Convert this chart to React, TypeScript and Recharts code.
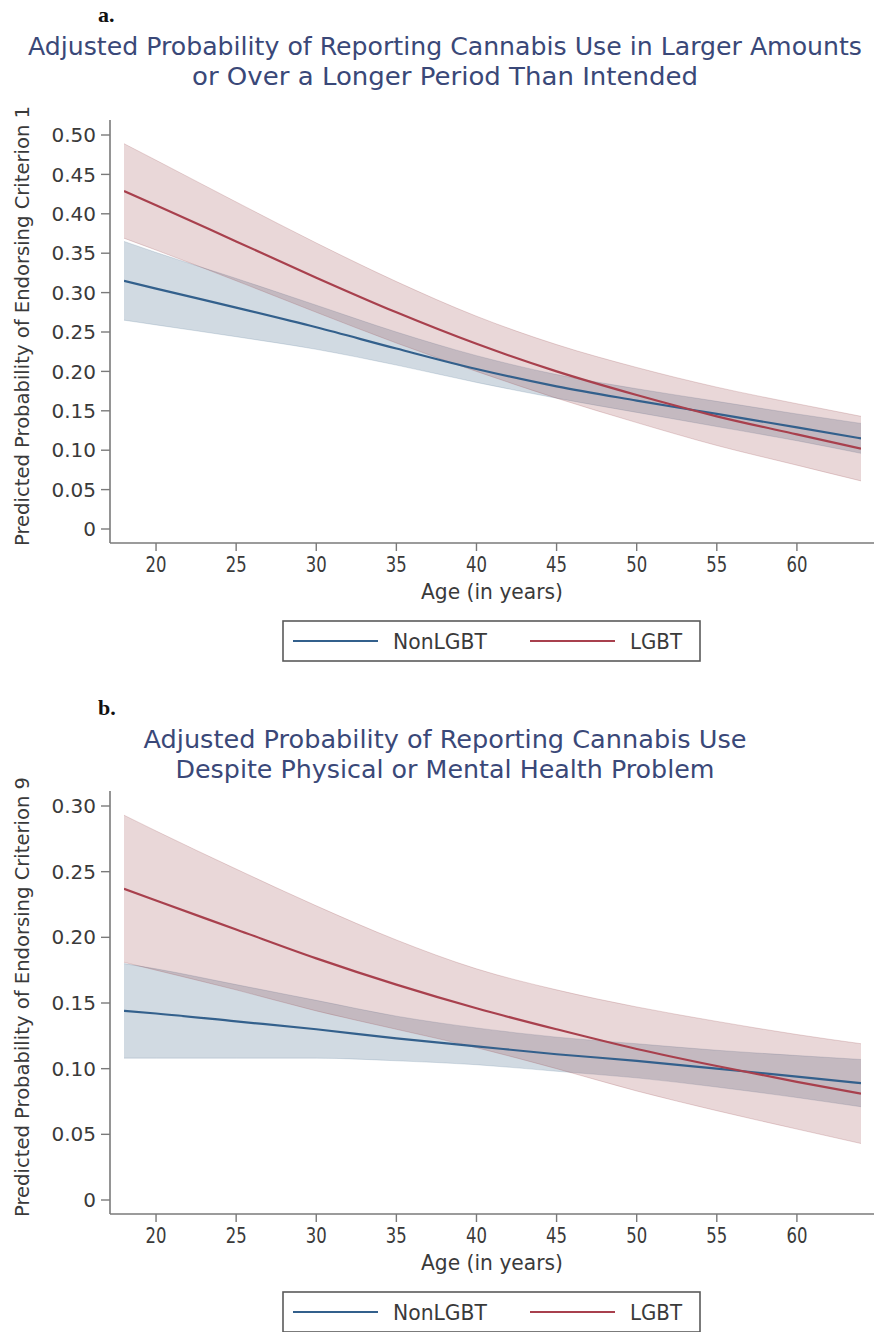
import React from 'react';
import { ComposedChart, Area, Line, XAxis, YAxis, Customized } from 'recharts';

const ages = [18, 20, 25, 30, 35, 40, 45, 50, 55, 60, 64];

// Panel a: Criterion 1
const aNonLine = [0.315, 0.305, 0.281, 0.256, 0.229, 0.203, 0.181, 0.163, 0.146, 0.129, 0.115];
const aNonLo = [0.265, 0.259, 0.244, 0.228, 0.208, 0.186, 0.166, 0.148, 0.130, 0.112, 0.096];
const aNonHi = [0.365, 0.351, 0.318, 0.284, 0.250, 0.220, 0.196, 0.178, 0.162, 0.146, 0.134];
const aLgbtLine = [0.429, 0.411, 0.365, 0.319, 0.275, 0.235, 0.200, 0.170, 0.143, 0.120, 0.102];
const aLgbtLo = [0.369, 0.354, 0.315, 0.275, 0.236, 0.200, 0.166, 0.135, 0.106, 0.081, 0.061];
const aLgbtHi = [0.489, 0.468, 0.415, 0.363, 0.314, 0.270, 0.234, 0.205, 0.180, 0.159, 0.143];

// Panel b: Criterion 9
const bNonLine = [0.144, 0.142, 0.136, 0.130, 0.123, 0.117, 0.111, 0.106, 0.100, 0.094, 0.089];
const bNonLo = [0.108, 0.108, 0.108, 0.108, 0.106, 0.103, 0.098, 0.093, 0.086, 0.078, 0.071];
const bNonHi = [0.180, 0.176, 0.164, 0.152, 0.140, 0.131, 0.124, 0.119, 0.114, 0.110, 0.107];
const bLgbtLine = [0.237, 0.228, 0.206, 0.184, 0.164, 0.146, 0.130, 0.115, 0.102, 0.090, 0.081];
const bLgbtLo = [0.181, 0.175, 0.160, 0.144, 0.130, 0.116, 0.100, 0.083, 0.068, 0.054, 0.043];
const bLgbtHi = [0.293, 0.281, 0.252, 0.224, 0.198, 0.176, 0.160, 0.147, 0.136, 0.126, 0.119];

const xTicks = [20, 25, 30, 35, 40, 45, 50, 55, 60];
const aYTicks = [0, 0.05, 0.1, 0.15, 0.2, 0.25, 0.3, 0.35, 0.4, 0.45, 0.5];
const bYTicks = [0, 0.05, 0.1, 0.15, 0.2, 0.25, 0.3];

const seriesNames = ['NonLGBT', 'LGBT'];

const buildRows = (nl: number[], nlo: number[], nhi: number[], ll: number[], llo: number[], lhi: number[]) =>
  ages.map((age, i) => ({
    age,
    non: nl[i],
    nonBand: [nlo[i], nhi[i]],
    lgbt: ll[i],
    lgbtBand: [llo[i], lhi[i]],
  }));

const aRows = buildRows(aNonLine, aNonLo, aNonHi, aLgbtLine, aLgbtLo, aLgbtHi);
const bRows = buildRows(bNonLine, bNonLo, bNonHi, bLgbtLine, bLgbtLo, bLgbtHi);

const NAVY = '#33608c';
const MAROON = '#a8404d';
const NAVY_FILL = '#1a476f';
const MAROON_FILL = '#90353b';
const TITLE = '#3a4878';
const AXIS = '#7a7a7a';
const TEXT = '#3a3a3a';
const SANS = "'DejaVu Sans', Verdana, sans-serif";

const fmt = (v: number) => (v === 0 ? '0' : v.toFixed(2));

const XTick = (props: any) => {
  const { x, y, payload } = props;
  const label = String(payload.value);
  return (
    <text
      x={x}
      y={y}
      dy="0.71em"
      textAnchor="middle"
      fontFamily={SANS}
      fontSize={21}
      fill={TEXT}
      textLength={label.length * 10.5}
      lengthAdjust="spacingAndGlyphs"
    >
      {label}
    </text>
  );
};

const Overlay = ({ letter, titleLines, yLabel, titleOffset }: any) => (
  <g>
    <text x={98} y={22 + titleOffset} fontFamily="'Liberation Serif', 'Times New Roman', serif" fontWeight="bold" fontSize={22} fill="#111">
      {letter}
    </text>
    {titleLines.map((t: any, i: number) => (
      <text
        key={i}
        x={445}
        y={55 + titleOffset + i * 30}
        textAnchor="middle"
        fontFamily={SANS}
        fontSize={25}
        fill={TITLE}
        textLength={t.len}
        lengthAdjust="spacingAndGlyphs"
      >
        {t.text}
      </text>
    ))}
    <text
      x={0}
      y={0}
      transform="translate(29, 326) rotate(-90)"
      textAnchor="middle"
      fontFamily={SANS}
      fontSize={20}
      fill={TEXT}
      textLength={440}
      lengthAdjust="spacingAndGlyphs"
    >
      {yLabel}
    </text>
    <text x={492} y={599} textAnchor="middle" fontFamily={SANS} fontSize={21} fill={TEXT} textLength={142} lengthAdjust="spacingAndGlyphs">
      Age (in years)
    </text>
    <rect x={283} y={621} width={417} height={40} fill="#fff" stroke="#5a5a5a" strokeWidth={1.6} />
    <line x1={293} x2={378} y1={641} y2={641} stroke={NAVY} strokeWidth={2.2} />
    <text x={393} y={649} fontFamily={SANS} fontSize={22} fill={TEXT} textLength={94} lengthAdjust="spacingAndGlyphs">
      {seriesNames[0]}
    </text>
    <line x1={530} x2={615} y1={641} y2={641} stroke={MAROON} strokeWidth={2.2} />
    <text x={630} y={649} fontFamily={SANS} fontSize={22} fill={TEXT} textLength={52} lengthAdjust="spacingAndGlyphs">
      {seriesNames[1]}
    </text>
  </g>
);

type PanelProps = {
  rows: any[];
  yTicks: number[];
  yMax: number;
  height: number;
  letter: string;
  titleLines: { text: string; len: number }[];
  yLabel: string;
  titleOffset: number;
};

const Panel = ({ rows, yTicks, yMax, height, letter, titleLines, yLabel, titleOffset }: PanelProps) => (
  <ComposedChart
    width={874}
    height={height}
    data={rows}
    margin={{ top: 120, right: 0, bottom: height - 543 - 30, left: 0 }}
  >
    <XAxis
      type="number"
      dataKey="age"
      domain={[18, 64]}
      ticks={xTicks}
      padding={{ left: 14, right: 13 }}
      height={30}
      tickSize={8}
      tickMargin={6}
      axisLine={{ stroke: AXIS, strokeWidth: 1.6 }}
      tickLine={{ stroke: AXIS, strokeWidth: 1.4 }}
      tick={<XTick />}
      allowDataOverflow
    />
    <YAxis
      type="number"
      domain={[0, yMax]}
      ticks={yTicks}
      tickFormatter={fmt}
      padding={{ top: 15, bottom: 14 }}
      width={110}
      tickSize={9}
      tickMargin={5}
      axisLine={{ stroke: AXIS, strokeWidth: 1.6 }}
      tickLine={{ stroke: AXIS, strokeWidth: 1.4 }}
      tick={{ fill: TEXT, fontSize: 20, fontFamily: SANS }}
      allowDataOverflow
    />
    <Area
      type="monotone"
      dataKey="nonBand"
      fill={NAVY_FILL}
      fillOpacity={0.2}
      stroke={NAVY_FILL}
      strokeOpacity={0.15}
      strokeWidth={1}
      isAnimationActive={false}
      activeDot={false}
    />
    <Area
      type="monotone"
      dataKey="lgbtBand"
      fill={MAROON_FILL}
      fillOpacity={0.2}
      stroke={MAROON_FILL}
      strokeOpacity={0.2}
      strokeWidth={1}
      isAnimationActive={false}
      activeDot={false}
    />
    <Line type="monotone" dataKey="non" stroke={NAVY} strokeWidth={2.2} dot={false} isAnimationActive={false} />
    <Line type="monotone" dataKey="lgbt" stroke={MAROON} strokeWidth={2.2} dot={false} isAnimationActive={false} />
    <Customized
      component={
        <Overlay letter={letter} titleLines={titleLines} yLabel={yLabel} titleOffset={titleOffset} />
      }
    />
  </ComposedChart>
);

export default function App() {
  return (
    <div style={{ position: 'absolute', left: 0, top: 0, width: 874, height: 1332, background: '#fff', overflow: 'hidden' }}>
      <div style={{ position: 'absolute', left: 0, top: 0 }}>
        <Panel
          rows={aRows}
          yTicks={aYTicks}
          yMax={0.5}
          height={671}
          letter="a."
          titleOffset={0}
          titleLines={[
            { text: 'Adjusted Probability of Reporting Cannabis Use in Larger Amounts', len: 834 },
            { text: 'or Over a Longer Period Than Intended', len: 506 },
          ]}
          yLabel="Predicted Probability of Endorsing Criterion 1"
        />
      </div>
      <div style={{ position: 'absolute', left: 0, top: 671 }}>
        <Panel
          rows={bRows}
          yTicks={bYTicks}
          yMax={0.3}
          height={661}
          letter="b."
          titleOffset={22}
          titleLines={[
            { text: 'Adjusted Probability of Reporting Cannabis Use', len: 603 },
            { text: 'Despite Physical or Mental Health Problem', len: 539 },
          ]}
          yLabel="Predicted Probability of Endorsing Criterion 9"
        />
      </div>
    </div>
  );
}
